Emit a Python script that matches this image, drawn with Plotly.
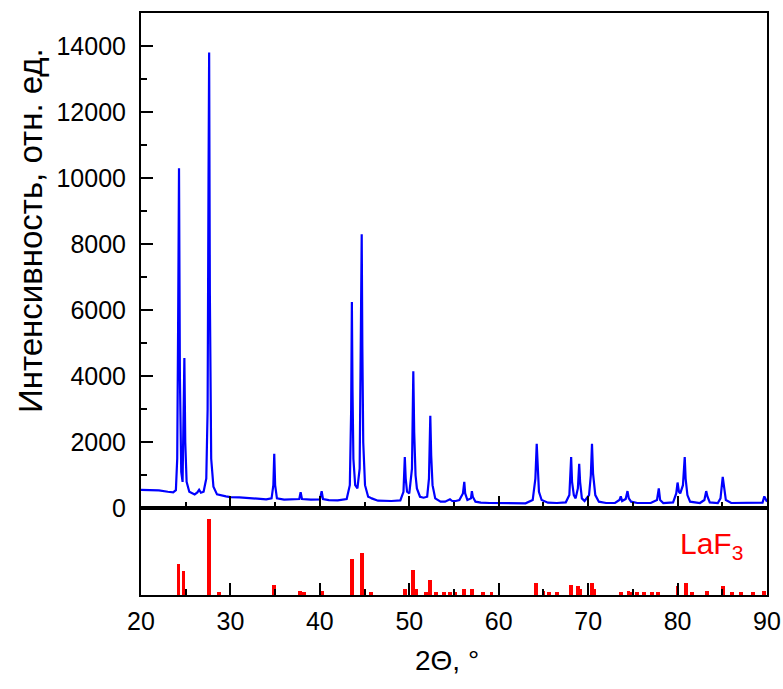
import plotly.graph_objects as go

# Measured diffraction pattern: 2-theta (deg) and intensity (counts)
two_theta = [
    20.0, 21.0, 22.0, 23.0, 23.6, 23.9, 24.05, 24.15, 24.25, 24.35, 24.5, 24.65, 24.75, 24.85, 24.95,
    25.1, 25.4, 26.0, 26.3, 26.5, 26.7, 27.0, 27.3, 27.45, 27.55, 27.62, 27.7, 27.85, 28.1, 28.5,
    29.5, 30.0, 31.0, 32.0, 33.0, 34.0, 34.6, 34.8, 34.9, 35.0, 35.2, 36.0, 37.0, 37.7, 37.85,
    38.0, 39.0, 40.0, 40.2, 40.35, 41.0, 42.0, 43.0, 43.35, 43.5, 43.58, 43.65, 43.75, 43.95, 44.2,
    44.45, 44.6, 44.68, 44.75, 44.85, 45.05, 45.4, 45.6, 45.8, 46.5, 47.0, 48.0, 49.0, 49.35, 49.5,
    49.6, 49.75, 50.0, 50.3, 50.45, 50.55, 50.7, 50.85, 51.2, 51.6, 52.0, 52.2, 52.35, 52.45, 52.6,
    52.9, 53.5, 54.0, 54.55, 54.8, 55.2, 55.6, 56.0, 56.15, 56.25, 56.5, 56.9, 57.0, 57.1, 57.4,
    58.0, 59.0, 60.0, 61.0, 62.0, 63.0, 63.8, 64.1, 64.25, 64.35, 64.5, 64.8, 65.5, 66.5, 67.5,
    67.9, 68.1, 68.2, 68.4, 68.6, 68.85, 69.0, 69.1, 69.3, 69.6, 70.1, 70.3, 70.43, 70.55, 70.8,
    71.2, 72.0, 73.0, 73.5, 73.65, 73.8, 74.2, 74.4, 74.55, 74.8, 75.5, 77.0, 77.7, 77.9, 78.05,
    78.4, 79.5, 79.85, 80.0, 80.15, 80.3, 80.6, 80.8, 80.9, 81.1, 81.4, 82.5, 83.0, 83.2, 83.35,
    83.6, 84.5, 84.8, 85.05, 85.2, 85.4, 86.0, 88.0, 89.5, 89.7, 89.85, 90.0,
]
intensity = [
    560, 560, 540, 500, 480, 550, 1500, 5500, 10300, 4000, 1100, 800, 2200, 4550, 2000,
    800, 500, 420, 480, 560, 470, 500, 900, 3000, 10000, 13800, 6500, 1500, 650, 420,
    360, 340, 330, 300, 290, 270, 300, 700, 1650, 700, 300, 260, 260, 280, 490,
    280, 260, 270, 520, 280, 250, 240, 280, 700, 3000, 6250, 3600, 1500, 700, 600,
    1200, 5000, 8300, 4900, 2000, 700, 350, 330, 300, 230, 220, 220, 240, 500, 1550,
    900, 500, 450, 1200, 4150, 2300, 1000, 600, 350, 320, 350, 900, 2800, 1600, 700,
    300, 200, 200, 270, 220, 220, 250, 450, 800, 450, 250, 300, 520, 350, 200,
    170, 160, 160, 150, 150, 150, 250, 900, 1950, 1100, 500, 250, 170, 160, 180,
    400, 1550, 800, 400, 300, 600, 1350, 800, 300, 220, 400, 1000, 1950, 1050, 400,
    200, 160, 160, 250, 360, 220, 280, 520, 300, 200, 160, 160, 250, 600, 250,
    160, 180, 450, 780, 500, 450, 700, 1550, 900, 400, 200, 160, 250, 520, 350,
    180, 160, 300, 950, 600, 250, 160, 160, 170, 360, 250, 200,
]

# Reference LaF3 line positions (2-theta) and relative intensities
ref_pos = [
    24.2, 24.75, 27.6, 28.7, 34.9, 37.8, 38.25, 40.2, 43.58, 44.7, 45.75, 49.55, 50.45, 50.8,
    51.85, 52.35, 52.95, 53.9, 54.55, 55.1, 56.1, 57.0, 58.2, 59.2, 64.2, 65.0, 65.6, 66.55,
    68.05, 68.9, 69.1, 70.4, 70.7, 73.7, 74.5, 74.9, 75.5, 76.25, 77.1, 77.8, 80.0, 80.9,
    81.6, 83.25, 85.1, 86.1, 87.1, 88.4, 89.7,
]
ref_int = [
    41, 31, 100, 4, 13, 5, 4, 5, 47, 55, 4, 8, 33, 7,
    4, 20, 4, 4, 4, 4, 7, 7, 4, 4, 16, 5, 4, 4,
    13, 11, 7, 16, 7, 4, 5, 4, 3, 3, 3, 4, 11, 16,
    4, 5, 11, 4, 4, 3, 5,
]

x_ticks = [20, 30, 40, 50, 60, 70, 80, 90]
y_ticks = [0, 2000, 4000, 6000, 8000, 10000, 12000, 14000]

FONT = "Liberation Sans, Arial, sans-serif"
split = 0.149

fig = go.Figure()
fig.add_trace(go.Scatter(
    x=two_theta, y=intensity, mode="lines",
    line=dict(color="#0000FF", width=2.2), xaxis="x", yaxis="y",
    showlegend=False,
))
fig.add_trace(go.Bar(
    x=ref_pos, y=ref_int, width=0.42,
    marker=dict(color="#FF0000", line=dict(width=0)),
    xaxis="x2", yaxis="y2", showlegend=False,
))

axis_common = dict(
    showline=True, linecolor="black", linewidth=2, mirror=True,
    showgrid=False, zeroline=False, ticks="inside", tickwidth=2,
    tickcolor="black", ticklen=12, automargin=False,
)

fig.update_layout(
    width=783, height=689,
    margin=dict(l=141, r=16, t=13, b=94),
    paper_bgcolor="white", plot_bgcolor="white",
    font=dict(family=FONT, size=25, color="black"),
    bargap=0,
    xaxis=dict(
        **axis_common, anchor="y", range=[20, 90], tickvals=x_ticks,
        showticklabels=False,
        minor=dict(ticks="inside", dtick=5, tick0=20, ticklen=6, tickwidth=2, tickcolor="black"),
    ),
    yaxis=dict(
        **axis_common, domain=[split, 1], range=[0, 15000], tickvals=y_ticks,
        tickformat="d", ticklabelstandoff=8,
        minor=dict(ticks="inside", dtick=1000, tick0=0, ticklen=6, tickwidth=2, tickcolor="black"),
    ),
    xaxis2=dict(
        **axis_common, anchor="y2", matches="x", range=[20, 90], tickvals=x_ticks,
        ticklabelstandoff=3,
        minor=dict(ticks="inside", dtick=5, tick0=20, ticklen=6, tickwidth=2, tickcolor="black"),
    ),
    yaxis2=dict(
        showline=True, linecolor="black", linewidth=2, mirror=True, automargin=False,
        showgrid=False, zeroline=False, domain=[0, split], range=[0, 115],
        showticklabels=False, ticks="",
    ),
    annotations=[
        dict(text="Интенсивность, отн. ед.", textangle=-90, xref="paper", yref="paper",
             x=-0.1773, y=0.6254, xanchor="center", yanchor="middle", showarrow=False,
             font=dict(family=FONT, size=33)),
        dict(text="2Θ, °", xref="paper", yref="paper", x=0.4888, y=-0.1117,
             xanchor="center", yanchor="middle", showarrow=False,
             font=dict(family=FONT, size=28)),
        dict(text="LaF<sub>3</sub>", xref="paper", yref="paper", x=0.912, y=0.0859,
             xanchor="center", yanchor="middle", showarrow=False,
             font=dict(family=FONT, size=30, color="#FF0000")),
    ],
)

fig.write_html("out.html")
